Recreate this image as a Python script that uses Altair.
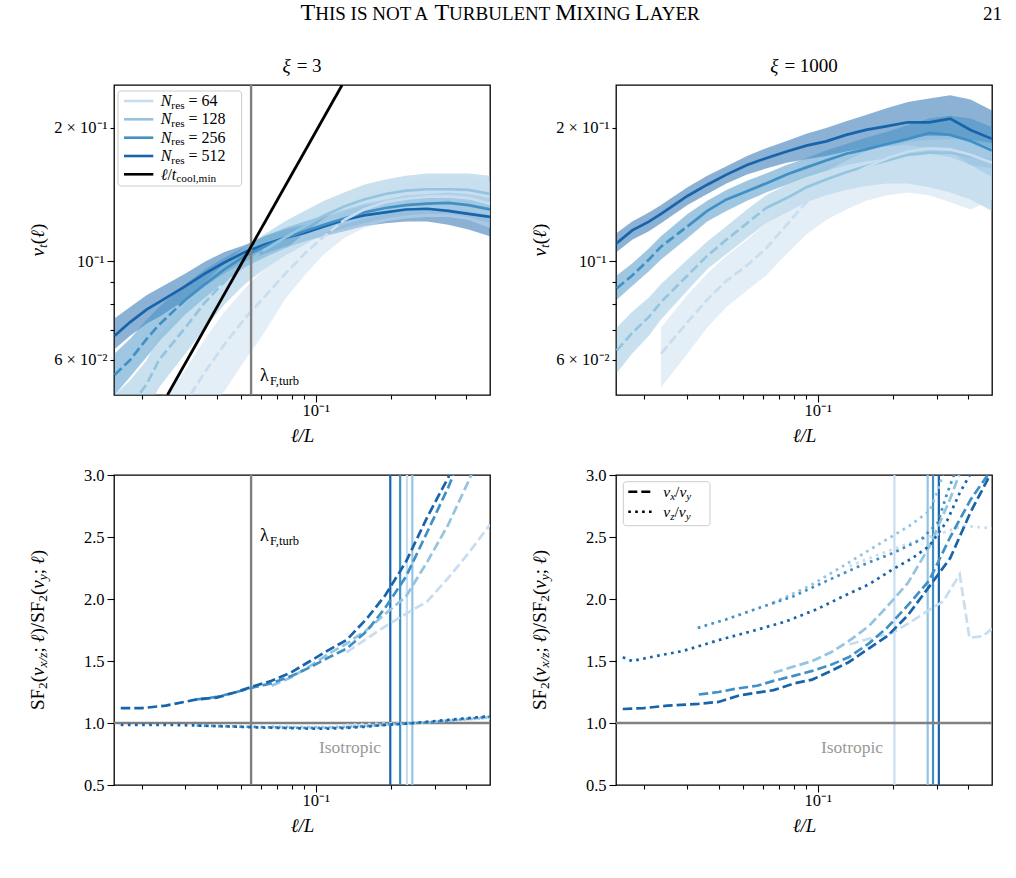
import altair as alt
import pandas as pd

SERIF = "Liberation Serif"

# ---------------------------------------------------------------- data
RES = ["64", "128", "256", "512"]
COLOR = {"64": "#c8ddf0", "128": "#94c4df", "256": "#4090c5", "512": "#1864aa"}
# below these separations a resolution is under-resolved: curve drawn dashed
DASH_BELOW = {"64": 0.133, "128": 0.0665, "256": 0.033, "512": 0.0166}

# separations l/L for the velocity structure functions (top row)
ELL = [0.0156, 0.018, 0.021, 0.0235, 0.03, 0.036, 0.043, 0.052, 0.062, 0.075,
       0.09, 0.108, 0.13, 0.156, 0.19, 0.23, 0.28, 0.34, 0.41, 0.5]

# xi = 3 : v_t(l) and its spread
VT3 = {
    "512": [0.068, 0.073, 0.078, 0.081, 0.088, 0.094, 0.0995, 0.105, 0.109, 0.113,
            0.116, 0.120, 0.124, 0.127, 0.129, 0.131, 0.1315, 0.130, 0.128, 0.126],
    "256": [0.0555, 0.060, 0.067, 0.072, 0.082, 0.089, 0.096, 0.103, 0.108, 0.113,
            0.117, 0.121, 0.125, 0.129, 0.132, 0.134, 0.135, 0.1355, 0.134, 0.131],
    "128": [0.043, 0.047, 0.053, 0.060, 0.071, 0.081, 0.090, 0.099, 0.106, 0.113,
            0.120, 0.127, 0.133, 0.138, 0.142, 0.1445, 0.1455, 0.1455, 0.145, 0.142],
    "64": [None, None, None, 0.040, 0.048, 0.0565, 0.065, 0.0745, 0.083, 0.0935,
           0.104, 0.114, 0.124, 0.131, 0.136, 0.1385, 0.140, 0.1402, 0.139, 0.135],
}
VT3_LO = {
    "512": [0.0635, 0.068, 0.0725, 0.075, 0.082, 0.088, 0.094, 0.100, 0.104, 0.108,
            0.111, 0.114, 0.117, 0.120, 0.122, 0.123, 0.123, 0.121, 0.118, 0.114],
    "256": [0.050, 0.055, 0.061, 0.066, 0.076, 0.083, 0.090, 0.097, 0.102, 0.107,
            0.111, 0.115, 0.119, 0.122, 0.125, 0.127, 0.128, 0.128, 0.126, 0.122],
    "128": [0.037, 0.041, 0.046, 0.052, 0.062, 0.071, 0.080, 0.089, 0.096, 0.103,
            0.109, 0.116, 0.121, 0.125, 0.128, 0.130, 0.131, 0.131, 0.130, 0.127],
    "64": [None, None, None, 0.033, 0.040, 0.046, 0.051, 0.060, 0.069, 0.082,
           0.093, 0.104, 0.113, 0.119, 0.123, 0.125, 0.126, 0.126, 0.124, 0.119],
}
VT3_HI = {
    "512": [0.0745, 0.079, 0.084, 0.087, 0.094, 0.100, 0.105, 0.109, 0.114, 0.118,
            0.121, 0.126, 0.130, 0.134, 0.136, 0.138, 0.139, 0.139, 0.138, 0.136],
    "256": [0.062, 0.067, 0.074, 0.079, 0.089, 0.096, 0.102, 0.108, 0.114, 0.119,
            0.123, 0.127, 0.131, 0.135, 0.138, 0.141, 0.142, 0.143, 0.142, 0.139],
    "128": [0.050, 0.054, 0.060, 0.068, 0.080, 0.090, 0.099, 0.108, 0.115, 0.123,
            0.130, 0.137, 0.143, 0.149, 0.153, 0.156, 0.158, 0.158, 0.158, 0.156],
    "64": [None, None, None, 0.047, 0.057, 0.067, 0.077, 0.087, 0.096, 0.106,
           0.116, 0.125, 0.134, 0.141, 0.147, 0.151, 0.153, 0.154, 0.154, 0.151],
}

# xi = 1000 : v_t(l) and its spread
VT1000 = {
    "512": [0.110, 0.1175, 0.123, 0.128, 0.1405, 0.149, 0.157, 0.165, 0.171, 0.177,
            0.1825, 0.1866, 0.193, 0.198, 0.202, 0.206, 0.206, 0.210, 0.198, 0.189],
    "256": [0.087, 0.093, 0.101, 0.108, 0.120, 0.130, 0.138, 0.144, 0.150, 0.157,
            0.163, 0.169, 0.175, 0.179, 0.184, 0.189, 0.195, 0.193, 0.187, 0.178],
    "128": [0.063, 0.069, 0.075, 0.081, 0.093, 0.103, 0.112, 0.122, 0.132, 0.139,
            0.147, 0.153, 0.159, 0.164, 0.169, 0.174, 0.176, 0.176, 0.173, 0.169],
    "64": [None, None, None, 0.062, 0.073, 0.082, 0.0905, 0.098, 0.107, 0.121,
           0.136, 0.146, 0.155, 0.163, 0.171, 0.177, 0.180, 0.179, 0.174, 0.167],
}
VT1000_LO = {
    "512": [0.105, 0.112, 0.117, 0.122, 0.134, 0.142, 0.150, 0.157, 0.162, 0.167,
            0.170, 0.173, 0.177, 0.180, 0.182, 0.183, 0.180, 0.178, 0.165, 0.162],
    "256": [0.082, 0.088, 0.095, 0.101, 0.113, 0.123, 0.130, 0.137, 0.143, 0.149,
            0.155, 0.160, 0.165, 0.168, 0.171, 0.173, 0.175, 0.172, 0.165, 0.155],
    "128": [0.056, 0.062, 0.068, 0.074, 0.086, 0.096, 0.104, 0.113, 0.122, 0.129,
            0.136, 0.141, 0.145, 0.148, 0.150, 0.150, 0.147, 0.143, 0.138, 0.130],
    "64": [None, None, None, 0.052, 0.062, 0.071, 0.079, 0.086, 0.093, 0.104,
           0.115, 0.124, 0.131, 0.137, 0.141, 0.143, 0.141, 0.136, 0.131, 0.138],
}
VT1000_HI = {
    "512": [0.116, 0.123, 0.129, 0.134, 0.147, 0.156, 0.164, 0.173, 0.180, 0.187,
            0.194, 0.200, 0.207, 0.214, 0.222, 0.229, 0.233, 0.237, 0.232, 0.219],
    "256": [0.093, 0.099, 0.107, 0.114, 0.128, 0.137, 0.145, 0.152, 0.158, 0.165,
            0.171, 0.178, 0.184, 0.190, 0.196, 0.203, 0.210, 0.213, 0.210, 0.201],
    "128": [0.071, 0.077, 0.083, 0.089, 0.101, 0.111, 0.120, 0.131, 0.141, 0.149,
            0.157, 0.164, 0.170, 0.176, 0.181, 0.186, 0.188, 0.189, 0.188, 0.185],
    "64": [None, None, None, 0.071, 0.084, 0.094, 0.103, 0.112, 0.122, 0.136,
           0.150, 0.160, 0.169, 0.177, 0.184, 0.190, 0.192, 0.192, 0.188, 0.180],
}

# cooling-limited velocity l / t_cool,min
TCOOL_ELL = [0.0254, 0.1275]
TCOOL_V = [0.05, 0.25]
LAMBDA_F = 0.055

# separations for the anisotropy ratios (bottom row)
ELL_B = [0.0165, 0.02, 0.025, 0.0333, 0.04, 0.048, 0.057, 0.0665, 0.08, 0.095,
         0.113, 0.133, 0.16, 0.19, 0.23, 0.28, 0.34, 0.41, 0.5]

# xi = 3 : SF2(v_x)/SF2(v_y) (dashed) and SF2(v_z)/SF2(v_y) (dotted)
SFX3 = {
    "512": (ELL_B, [1.12, 1.12, 1.14, 1.19, 1.205, 1.25, 1.30, 1.34, 1.41, 1.50,
                    1.59, 1.67, 1.84, 2.03, 2.30, 2.66, 2.98, 3.40, None]),
    "256": (ELL_B, [None, None, None, 1.19, 1.21, 1.25, 1.29, 1.32, 1.38, 1.45,
                    1.53, 1.60, 1.74, 1.93, 2.18, 2.54, 2.90, 3.30, None]),
    "128": (ELL_B, [None, None, None, None, None, None, None, 1.30, 1.37, 1.46,
                    1.56, 1.64, 1.75, 1.88, 2.02, 2.30, 2.60, 2.95, 3.35]),
    "64": (ELL_B, [None, None, None, None, None, None, None, None, None, None,
                   None, 1.57, 1.68, 1.78, 1.88, 1.98, 2.17, 2.37, 2.60]),
}
SFZ3 = {
    "512": (ELL_B, [0.985, 0.985, 0.985, 0.98, 0.975, 0.97, 0.965, 0.962, 0.958, 0.955,
                    0.955, 0.96, 0.97, 0.985, 0.995, 1.01, 1.025, 1.04, 1.055]),
    "256": (ELL_B, [None, None, None, 0.98, 0.975, 0.972, 0.968, 0.965, 0.962, 0.96,
                    0.962, 0.965, 0.975, 0.985, 0.995, 1.005, 1.02, 1.035, 1.05]),
    "128": (ELL_B, [None, None, None, None, None, None, None, 0.97, 0.968, 0.966,
                    0.967, 0.97, 0.978, 0.988, 0.997, 1.005, 1.018, 1.03, 1.045]),
    "64": (ELL_B, [None, None, None, None, None, None, None, None, None, None,
                   None, 0.985, 0.99, 0.995, 1.0, 1.01, 1.02, 1.03, 1.04]),
}
# xi = 1000
SFX1000 = {
    "512": (ELL_B, [1.113, 1.12, 1.14, 1.155, 1.17, 1.22, 1.245, 1.265, 1.318, 1.35,
                    1.42, 1.49, 1.60, 1.70, 1.87, 2.10, 2.33, 2.70, 3.03]),
    "256": (ELL_B, [None, None, None, 1.23, 1.25, 1.28, 1.30, 1.34, 1.38, 1.42,
                    1.47, 1.53, 1.64, 1.77, 1.95, 2.15, 2.50, 2.80, 3.05]),
    "128": (ELL_B, [None, None, None, None, None, None, None, 1.405, 1.455, 1.50,
                    1.57, 1.66, 1.78, 1.94, 2.13, 2.42, 2.81, 3.25, None]),
    "64": ([0.134, 0.16, 0.2, 0.233, 0.281, 0.318, 0.371, 0.406, 0.459, 0.5],
           [1.633, 1.68, 1.727, 1.808, 1.915, 1.98, 2.198, 1.687, 1.70, 1.76]),
}
SFZ1000 = {
    "512": ([0.0165, 0.018, 0.0224, 0.0287, 0.0403, 0.0565, 0.0746, 0.0985, 0.126,
             0.161, 0.2, 0.24, 0.281, 0.33, 0.37, 0.42],
            [1.53, 1.50, 1.54, 1.58, 1.67, 1.75, 1.82, 1.915, 2.02, 2.12, 2.24, 2.33,
             2.43, 2.63, 2.85, 3.05]),
    "256": ([0.033, 0.0428, 0.0583, 0.0794, 0.108, 0.147, 0.2, 0.26, 0.303, 0.33, 0.36],
            [1.767, 1.835, 1.929, 2.02, 2.144, 2.265, 2.37, 2.48, 2.615, 2.85, 3.05]),
    "128": ([0.066, 0.0926, 0.126, 0.171, 0.233, 0.281, 0.3, 0.32],
            [1.969, 2.104, 2.265, 2.427, 2.59, 2.71, 2.85, 3.02]),
    "64": ([0.134, 0.171, 0.233, 0.318, 0.383, 0.44, 0.5],
           [2.265, 2.35, 2.45, 2.535, 2.59, 2.58, 2.57]),
}
# box size at which anisotropy sets in, per resolution
VMARK3 = {"512": 0.199, "256": 0.218, "64": 0.232, "128": 0.244}
VMARK1000 = {"64": 0.203, "128": 0.276, "256": 0.29, "512": 0.306}

# ---------------------------------------------------------------- styling
W, H = 376, 310
ONE = pd.DataFrame({"k": [0]})

XSCALE = alt.Scale(type="log", domain=[0.0155, 0.5], nice=False)
YT_SCALE = alt.Scale(type="log", domain=[0.05, 0.25], nice=False)
YB_SCALE = alt.Scale(domain=[0.5, 3.0], nice=False, zero=False)


def is_val(v):
    return f"abs(datum.value - {v}) < 1e-9"


X_AXIS = alt.Axis(
    values=[0.02, 0.03, 0.04, 0.05, 0.06, 0.07, 0.08, 0.09, 0.1, 0.2, 0.3, 0.4],
    labelExpr=f"{is_val(0.1)} ? '10⁻¹' : ''",
    tickSize={"condition": {"test": is_val(0.1), "value": 7}, "value": 4},
    title="ℓ/L", titleFontStyle="italic", titlePadding=8, labelPadding=0,
)
YT_AXIS = alt.Axis(
    values=[0.06, 0.07, 0.08, 0.09, 0.1, 0.2],
    labelExpr=(f"{is_val(0.06)} ? '6 × 10⁻²' : {is_val(0.1)} ? '10⁻¹' : "
               f"{is_val(0.2)} ? '2 × 10⁻¹' : ''"),
    tickSize={"condition": {"test": is_val(0.1), "value": 7}, "value": 4},
    title=None, labelPadding=3,
)
YB_AXIS = alt.Axis(values=[0.5, 1.0, 1.5, 2.0, 2.5, 3.0], format=".1f",
                   tickSize=7, title=None, labelPadding=3)

X = alt.X("ell:Q", scale=XSCALE, axis=X_AXIS)

# approximate advance widths (em) of the serif face
REG_W = {" ": .25, "(": .333, ")": .333, ",": .25, "/": .278, ";": .278, "=": .564,
         "×": .564, "A": .722, "B": .667, "E": .611, "F": .556, "G": .722, "H": .722,
         "I": .333, "L": .611, "M": .889, "N": .722, "O": .722, "R": .667, "S": .556,
         "T": .611, "U": .722, "X": .722, "Y": .722, "b": .5, "c": .444, "e": .444,
         "i": .278, "l": .278, "m": .778, "n": .5, "o": .5, "r": .333, "s": .389,
         "t": .278, "u": .5, "λ": .55, "ℓ": .42, "ξ": .5}
ITA_W = {"v": .444, "x": .444, "y": .444, "z": .389, "N": .667, "t": .278,
         "L": .556, "ℓ": .42, "/": .278, "ξ": .5}


def text_width(s, size, italic):
    table = ITA_W if italic else REG_W
    return sum(table.get(ch, REG_W.get(ch, 0.5)) for ch in s) * size


def label(text, x, y, size, italic=False, color="black", align="left",
          baseline="alphabetic", angle=0):
    return alt.Chart(ONE).mark_text(
        text=text, font=SERIF, fontSize=size,
        fontStyle="italic" if italic else "normal",
        align=align, baseline=baseline, angle=angle, color=color,
    ).encode(x=alt.value(x), y=alt.value(y))


def rich(pieces, x, y, angle=0, anchor="left"):
    """Lay out (text, size, italic, drop) pieces one after another."""
    total = sum(text_width(t, s, it) for t, s, it, _ in pieces)
    pos = {"left": 0, "center": -total / 2, "right": -total}[anchor]
    out = []
    for t, s, it, drop in pieces:
        body = t.lstrip(" ")
        lead = text_width(t[:len(t) - len(body)], s, it)
        if angle == 0:
            out.append(label(body, x + pos + lead, y + drop, s, it))
        else:
            out.append(label(body, x + drop, y - pos - lead, s, it, angle=270))
        pos += text_width(t, s, it)
    return out


def frame(df_x, df_y):
    return pd.DataFrame({"ell": df_x, "v": df_y}).dropna().reset_index(drop=True)


# ---------------------------------------------------------------- panels
def top_panel(mid, lo, hi, xi):
    y = alt.Y("v:Q", scale=YT_SCALE, axis=YT_AXIS)
    layers = []
    for r in ["512", "256", "128", "64"]:
        band = pd.DataFrame({"ell": ELL, "v": lo[r], "hi": hi[r]}).dropna()
        layers.append(alt.Chart(band).mark_area(color=COLOR[r], opacity=0.5, clip=True)
                      .encode(x=X, y=y, y2="hi:Q"))
    for r in ["512", "256", "128", "64"]:
        d = frame(ELL, mid[r])
        k = int((d["ell"] <= DASH_BELOW[r]).sum()) - 1
        if k >= 1:
            layers.append(alt.Chart(d.iloc[:k + 1]).mark_line(
                color=COLOR[r], strokeWidth=2.7, strokeDash=[9.5, 4], clip=True)
                .encode(x=X, y=y))
        layers.append(alt.Chart(d.iloc[max(k, 0):]).mark_line(
            color=COLOR[r], strokeWidth=2.7, clip=True).encode(x=X, y=y))
    layers += rich([("v", 19, True, 0), ("t", 13.5, True, 3), ("(", 19, False, 0),
                    ("ℓ", 19, True, 0), (")", 19, False, 0)], -70, H / 2, angle=270,
                   anchor="center")
    layers += rich([("ξ", 19, True, 0), (" = " + xi, 19, False, 0)], W / 2, -13,
                   anchor="center")
    return layers, y


def sf_title():
    return rich([("SF", 19, False, 0), ("2", 13.5, False, 3), ("(", 19, False, 0),
                 ("v", 19, True, 0), ("x/z", 13.5, True, 3), ("; ", 19, False, 0),
                 ("ℓ", 19, True, 0), (")/SF", 19, False, 0), ("2", 13.5, False, 3),
                 ("(", 19, False, 0), ("v", 19, True, 0), ("y", 13.5, True, 3),
                 ("; ", 19, False, 0), ("ℓ", 19, True, 0), (")", 19, False, 0)],
                -70, H / 2, angle=270, anchor="center")


def bottom_panel(sfx, sfz, vmark):
    y = alt.Y("v:Q", scale=YB_SCALE, axis=YB_AXIS)
    layers = []
    for r in ["64", "128", "256", "512"]:
        layers.append(alt.Chart(pd.DataFrame({"ell": [vmark[r]]})).mark_rule(
            color=COLOR[r], strokeWidth=2.2).encode(x=X))
    layers.append(alt.Chart(pd.DataFrame({"v": [1.0]})).mark_rule(
        color="#808080", strokeWidth=2.4).encode(y=y))
    for r in ["64", "128", "256", "512"]:
        xs, vs = sfx[r]
        layers.append(alt.Chart(frame(xs, vs)).mark_line(
            color=COLOR[r], strokeWidth=2.7, strokeDash=[9.5, 4], clip=True)
            .encode(x=X, y=y))
        xs, vs = sfz[r]
        layers.append(alt.Chart(frame(xs, vs)).mark_line(
            color=COLOR[r], strokeWidth=2.7, strokeDash=[2.7, 4.4], clip=True)
            .encode(x=X, y=y))
    layers.append(label("Isotropic", 236, 273, 17.5, color="#999999",
                        align="center", baseline="middle"))
    layers += sf_title()
    return layers


# --- xi = 3, velocity
tl_layers, ytop = top_panel(VT3, VT3_LO, VT3_HI, "3")
tl_layers.append(alt.Chart(pd.DataFrame({"ell": [LAMBDA_F]})).mark_rule(
    color="#808080", strokeWidth=2.4).encode(x=X))
tl_layers.append(alt.Chart(pd.DataFrame({"ell": TCOOL_ELL, "v": TCOOL_V})).mark_line(
    color="black", strokeWidth=2.8, clip=True).encode(x=X, y=ytop))
tl_layers += rich([("λ", 18, False, 0), ("F,turb", 12.5, False, 4)], 146, 296)
# legend
tl_layers.append(alt.Chart(ONE).mark_rect(
    fill="white", fillOpacity=0.8, stroke="#cccccc", strokeWidth=1, cornerRadius=3)
    .encode(x=alt.value(4), x2=alt.value(127.7), y=alt.value(6), y2=alt.value(101)))
rows = [16, 34.3, 52.7, 71, 89.3]
for yy, r in zip(rows, RES):
    tl_layers.append(alt.Chart(ONE).mark_rule(color=COLOR[r], strokeWidth=2.6)
                     .encode(x=alt.value(10), x2=alt.value(39.3), y=alt.value(yy)))
    tl_layers += rich([("N", 16, True, 0), ("res", 11.3, False, 2.5),
                       (" = " + r, 16, False, 0)], 46.7, yy + 5)
tl_layers.append(alt.Chart(ONE).mark_rule(color="black", strokeWidth=2.6)
                 .encode(x=alt.value(10), x2=alt.value(39.3), y=alt.value(rows[4])))
tl_layers += rich([("ℓ", 16, True, 0), ("/", 16, False, 0), ("t", 16, True, 0),
                   ("cool,min", 11.3, False, 2.5)], 46.7, rows[4] + 5.5)
# running head of the page
tl_layers += rich([("T", 24, False, 0), ("HIS IS NOT A ", 19, False, 0),
                   ("T", 24, False, 0), ("URBULENT ", 19, False, 0),
                   ("M", 24, False, 0), ("IXING ", 19, False, 0),
                   ("L", 24, False, 0), ("AYER", 19, False, 0)], 387, -65,
                  anchor="center")
top_left = alt.layer(*tl_layers).properties(width=W, height=H)

# --- xi = 1000, velocity
tr_layers, _ = top_panel(VT1000, VT1000_LO, VT1000_HI, "1000")
tr_layers.append(label("21", 386, -65, 19, align="right"))
top_right = alt.layer(*tr_layers).properties(width=W, height=H)

# --- xi = 3, anisotropy
bl_layers = bottom_panel(SFX3, SFZ3, VMARK3)
bl_layers.insert(4, alt.Chart(pd.DataFrame({"ell": [LAMBDA_F]})).mark_rule(
    color="#808080", strokeWidth=2.4).encode(x=X))
bl_layers += rich([("λ", 18, False, 0), ("F,turb", 12.5, False, 4)], 146, 66)
bottom_left = alt.layer(*bl_layers).properties(width=W, height=H)

# --- xi = 1000, anisotropy
br_layers = bottom_panel(SFX1000, SFZ1000, VMARK1000)
br_layers.append(alt.Chart(ONE).mark_rect(
    fill="white", fillOpacity=0.8, stroke="#cccccc", strokeWidth=1, cornerRadius=3)
    .encode(x=alt.value(7.3), x2=alt.value(94), y=alt.value(6.7), y2=alt.value(50.7)))
for yy, dash, comp in [(16.7, [9, 4], "x"), (36.7, [2.6, 4.3], "z")]:
    br_layers.append(alt.Chart(ONE).mark_rule(color="black", strokeWidth=2.6,
                                              strokeDash=dash)
                     .encode(x=alt.value(12.3), x2=alt.value(37.3), y=alt.value(yy)))
    br_layers += rich([("v", 15.5, True, 0), (comp, 11, True, 3), ("/", 15.5, False, 0),
                       ("v", 15.5, True, 0), ("y", 11, True, 3)], 47.3, yy + 5)
bottom_right = alt.layer(*br_layers).properties(width=W, height=H)

chart = alt.concat(
    top_left, top_right, bottom_left, bottom_right,
    columns=2, spacing={"row": 80, "column": 126}, bounds="flush",
).properties(
    padding={"left": 28, "top": 0, "right": 6, "bottom": 6},
).configure_axis(
    labelFont=SERIF, titleFont=SERIF, labelFontSize=16.5, titleFontSize=19,
    titleFontWeight="normal", labelColor="black", titleColor="black",
    tickColor="black", tickWidth=1.1, domain=False, grid=False,
).configure_view(stroke="black", strokeWidth=1.3)

chart.save("out.html", embed_options={"renderer": "svg", "actions": False})
